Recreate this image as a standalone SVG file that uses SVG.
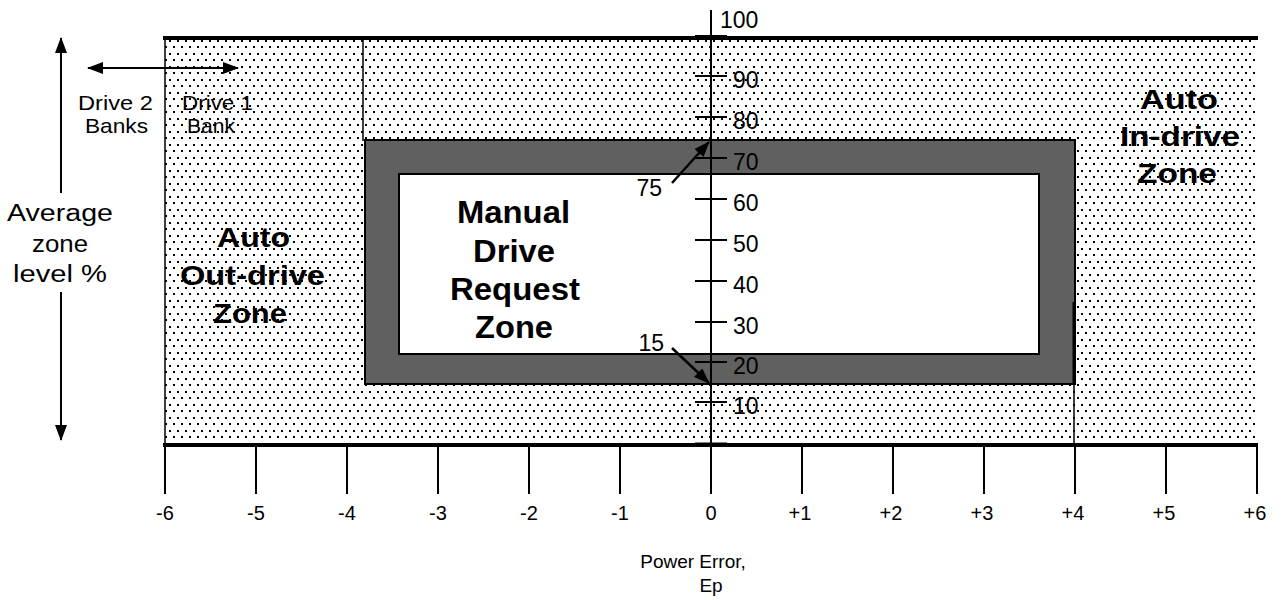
<svg xmlns="http://www.w3.org/2000/svg" width="1283" height="600" viewBox="0 0 1283 600">
<style>
.t{font-family:"Liberation Sans",Arial,sans-serif;fill:#000}
.b{font-family:"Liberation Sans",Arial,sans-serif;font-weight:bold;fill:#000}
.ln{stroke:#000;fill:none}
</style>
<defs>
<pattern id="dots" x="0" y="0" width="8" height="13" patternUnits="userSpaceOnUse">
<rect width="8" height="13" fill="#fff"/>
<rect x="1" y="1" width="2" height="2" fill="#000"/>
<rect x="5" y="7" width="2" height="2" fill="#000"/>
</pattern>
<marker id="ah" viewBox="0 0 16 12" refX="15" refY="6" markerWidth="16" markerHeight="12" markerUnits="userSpaceOnUse" orient="auto-start-reverse">
<path d="M0,0 L16,6 L0,12 Z" fill="#000"/>
</marker>
</defs>

<g id="outer-zone">
<rect x="165" y="38" width="1092" height="407" fill="url(#dots)"/>
<line class="ln" x1="163" y1="38" x2="1258" y2="38" stroke-width="4"/>
<line class="ln" x1="163" y1="445" x2="1258" y2="445" stroke-width="4"/>
<line class="ln" x1="165" y1="38" x2="165" y2="445" stroke-width="1.5"/>
<line class="ln" x1="363" y1="38" x2="363" y2="141" stroke-width="1.5"/>
<line class="ln" x1="1074" y1="384" x2="1074" y2="445" stroke-width="1.5"/>
</g>

<g id="manual-band">
<rect x="365" y="140" width="710" height="244" fill="#606060" stroke="#000" stroke-width="2"/>
<line class="ln" x1="1074" y1="302" x2="1074" y2="384" stroke-width="3"/>
</g>

<g id="manual-zone">
<rect x="399" y="174" width="640" height="180" fill="#fff" stroke="#000" stroke-width="2"/>
</g>

<g id="y-axis">
<line class="ln" x1="711" y1="10" x2="711" y2="446" stroke-width="2"/>
<line class="ln" x1="695" y1="37" x2="727" y2="37" stroke-width="4"/>
<line class="ln" x1="695" y1="444" x2="727" y2="444" stroke-width="3"/>
<g class="ln" stroke-width="2">
<line x1="695" y1="76" x2="727" y2="76"/>
<line x1="695" y1="117" x2="727" y2="117"/>
<line x1="695" y1="158" x2="727" y2="158"/>
<line x1="695" y1="199" x2="727" y2="199"/>
<line x1="695" y1="240" x2="727" y2="240"/>
<line x1="695" y1="281" x2="727" y2="281"/>
<line x1="695" y1="322" x2="727" y2="322"/>
<line x1="695" y1="362" x2="727" y2="362"/>
<line x1="695" y1="402" x2="727" y2="402"/>
</g>
<g class="t" font-size="23">
<text x="720" y="28">100</text>
<text x="733" y="88">90</text>
<text x="733" y="129">80</text>
<text x="733" y="170">70</text>
<text x="733" y="211">60</text>
<text x="733" y="252">50</text>
<text x="733" y="293">40</text>
<text x="733" y="334">30</text>
<text x="733" y="374">20</text>
<text x="733" y="414">10</text>
</g>
</g>

<g id="x-axis">
<g class="ln" stroke-width="2">
<line x1="165" y1="446" x2="165" y2="494"/>
<line x1="256" y1="446" x2="256" y2="494"/>
<line x1="347" y1="446" x2="347" y2="494"/>
<line x1="438" y1="446" x2="438" y2="494"/>
<line x1="529" y1="446" x2="529" y2="494"/>
<line x1="620" y1="446" x2="620" y2="494"/>
<line x1="711" y1="446" x2="711" y2="494"/>
<line x1="802" y1="446" x2="802" y2="494"/>
<line x1="893" y1="446" x2="893" y2="494"/>
<line x1="984" y1="446" x2="984" y2="494"/>
<line x1="1075" y1="446" x2="1075" y2="494"/>
<line x1="1166" y1="446" x2="1166" y2="494"/>
<line x1="1257" y1="446" x2="1257" y2="494"/>
</g>
<g class="t" font-size="20" text-anchor="middle">
<text x="165" y="520">-6</text>
<text x="256" y="520">-5</text>
<text x="347" y="520">-4</text>
<text x="438" y="520">-3</text>
<text x="529" y="520">-2</text>
<text x="620" y="520">-1</text>
<text x="711" y="520">0</text>
<text x="800" y="520">+1</text>
<text x="891" y="520">+2</text>
<text x="982" y="520">+3</text>
<text x="1073" y="520">+4</text>
<text x="1164" y="520">+5</text>
<text x="1255" y="520">+6</text>
</g>
<g class="t" font-size="19" text-anchor="middle">
<text x="693" y="568">Power Error,</text>
<text x="711" y="592">Ep</text>
</g>
</g>

<g id="connectors">
<line class="ln" x1="61" y1="38" x2="61" y2="193" stroke-width="2" marker-start="url(#ah)"/>
<line class="ln" x1="61" y1="292" x2="61" y2="440" stroke-width="2" marker-end="url(#ah)"/>
<line class="ln" x1="88" y1="68" x2="238" y2="68" stroke-width="2" marker-start="url(#ah)" marker-end="url(#ah)"/>
<line class="ln" x1="672" y1="183" x2="709" y2="142" stroke-width="2.5" marker-end="url(#ah)"/>
<line class="ln" x1="672" y1="348" x2="709" y2="383" stroke-width="2.5" marker-end="url(#ah)"/>
</g>

<g id="labels">
<g class="t" font-size="23" text-anchor="middle">
<text x="60" y="221" textLength="106" lengthAdjust="spacingAndGlyphs">Average</text>
<text x="60" y="252" textLength="56" lengthAdjust="spacingAndGlyphs">zone</text>
<text x="60" y="282" textLength="94" lengthAdjust="spacingAndGlyphs">level %</text>
</g>
<g class="t" font-size="21" text-anchor="middle">
<text x="115.5" y="110" textLength="75" lengthAdjust="spacingAndGlyphs">Drive 2</text>
<text x="116.5" y="133" textLength="63" lengthAdjust="spacingAndGlyphs">Banks</text>
<text x="217.5" y="110" textLength="71" lengthAdjust="spacingAndGlyphs">Drive 1</text>
<text x="211" y="133" textLength="48" lengthAdjust="spacingAndGlyphs">Bank</text>
</g>
<g class="t" font-size="23" text-anchor="end">
<text x="662" y="196">75</text>
<text x="664" y="351">15</text>
</g>
<g class="b" font-size="27" text-anchor="middle">
<text x="253.5" y="247" textLength="73" lengthAdjust="spacingAndGlyphs">Auto</text>
<text x="252.5" y="285" textLength="145" lengthAdjust="spacingAndGlyphs">Out-drive</text>
<text x="250" y="323" textLength="74" lengthAdjust="spacingAndGlyphs">Zone</text>
<text x="1179" y="109" textLength="78" lengthAdjust="spacingAndGlyphs">Auto</text>
<text x="1180" y="146" textLength="120" lengthAdjust="spacingAndGlyphs">In-drive</text>
<text x="1177" y="183" textLength="80" lengthAdjust="spacingAndGlyphs">Zone</text>
</g>
<g class="b" font-size="31" text-anchor="middle">
<text x="513.5" y="223" textLength="113" lengthAdjust="spacingAndGlyphs">Manual</text>
<text x="514" y="262" textLength="82" lengthAdjust="spacingAndGlyphs">Drive</text>
<text x="515" y="300" textLength="130" lengthAdjust="spacingAndGlyphs">Request</text>
<text x="514" y="338" textLength="78" lengthAdjust="spacingAndGlyphs">Zone</text>
</g>
</g>
</svg>
